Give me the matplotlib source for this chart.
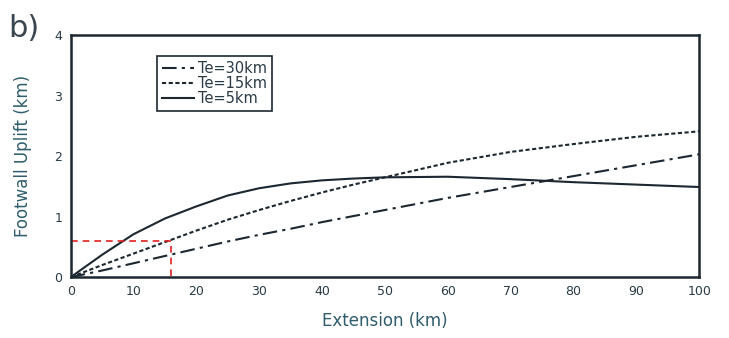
import matplotlib.pyplot as plt
import numpy as np

# extension (km)
ext = [0, 5, 10, 15, 20, 25, 30, 35, 40, 45, 50, 60, 70, 80, 90, 100]
te30 = [0, 0.11, 0.23, 0.35, 0.47, 0.59, 0.70, 0.80, 0.91, 1.01, 1.11, 1.31, 1.49, 1.67, 1.85, 2.03]
te15 = [0, 0.20, 0.39, 0.58, 0.77, 0.95, 1.11, 1.26, 1.40, 1.53, 1.65, 1.89, 2.07, 2.20, 2.32, 2.41]
te5 = [0, 0.37, 0.71, 0.97, 1.17, 1.35, 1.47, 1.55, 1.60, 1.63, 1.65, 1.66, 1.62, 1.57, 1.53, 1.49]

box_x = 16
box_y = 0.6

line_col = '#1c2730'
text_col = '#2f5d6c'

fig = plt.figure(figsize=(7.29, 3.38), dpi=100)
ax = fig.add_axes([0.097, 0.180, 0.862, 0.716])

ax.plot(ext, te30, color=line_col, lw=1.5, dashes=(7, 2.5, 1.5, 2.5), label='Te=30km')
ax.plot(ext, te15, color=line_col, lw=1.5, dashes=(2, 1.2), label='Te=15km')
ax.plot(ext, te5, color=line_col, lw=1.5, label='Te=5km')

# red dashed box
ax.plot([0, box_x, box_x], [box_y, box_y, 0], color='#e02020', lw=1.2, ls=(0, (4, 3)))

ax.set_xlim(0, 100)
ax.set_ylim(0, 4)
ax.set_xticks(np.arange(0, 101, 10))
ax.set_yticks([0, 1, 2, 3, 4])
ax.tick_params(length=0, pad=6, labelsize=9, labelcolor='#2a3a44')
for s in ax.spines.values():
    s.set_linewidth(1.8)
    s.set_color(line_col)

ax.set_xlabel('Extension (km)', fontsize=12, color=text_col, labelpad=10)
ax.set_ylabel('Footwall Uplift (km)', fontsize=12, color=text_col, labelpad=16)

leg = ax.legend(loc='upper left', bbox_to_anchor=(0.125, 0.945), fontsize=10.5,
                handlelength=2.2, handletextpad=0.3, labelspacing=0.0,
                borderpad=0.35, fancybox=False, framealpha=1)
leg.get_frame().set_edgecolor(line_col)
leg.get_frame().set_linewidth(1.2)
for t in leg.get_texts():
    t.set_color('#2a3a44')

fig.text(0.012, 0.89, 'b)', fontsize=22, color='#3a4650')

fig.savefig('out.png', dpi=100)
